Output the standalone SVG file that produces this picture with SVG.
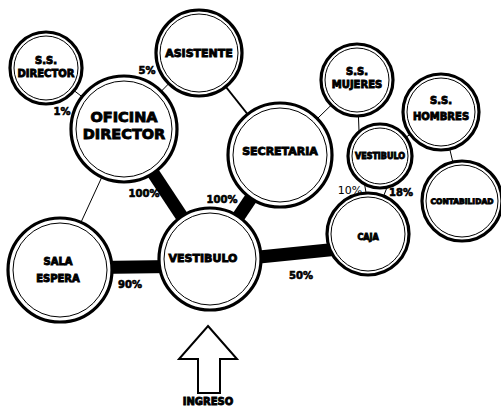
<svg xmlns="http://www.w3.org/2000/svg" width="501" height="411" viewBox="0 0 501 411">
  <style>
    .outer { fill: #fff; stroke: #000; stroke-width: 3.2; }
    .inner { fill: none; stroke: #000; stroke-width: 1; }
    .lbl { font-family: "DejaVu Sans", "Liberation Sans", sans-serif; font-weight: bold; fill: #000; stroke: #000; stroke-width: 0.9; text-anchor: middle; }
    .pct { font-family: "DejaVu Sans", "Liberation Sans", sans-serif; font-weight: bold; font-size: 10px; fill: #000; stroke: #000; stroke-width: 0.6; text-anchor: middle; }
    .pctn { font-family: "DejaVu Sans", "Liberation Sans", sans-serif; font-size: 11px; fill: #000; text-anchor: middle; }
    .thin { stroke: #000; stroke-width: 1; }
    .mid { stroke: #000; stroke-width: 2; }
    .thick { stroke: #000; stroke-width: 13; }
  </style>

  <!-- connectors -->
  <g id="connectors">
    <line class="thin" x1="46" y1="69" x2="124" y2="129"/>
    <line class="thin" x1="199" y1="53" x2="124" y2="129"/>
    <line class="mid" x1="199" y1="53" x2="280" y2="155"/>
    <line class="thick" x1="124" y1="129" x2="210" y2="259"/>
    <line class="thin" x1="124" y1="129" x2="59" y2="270"/>
    <line class="thick" x1="280" y1="155" x2="210" y2="259"/>
    <line class="thick" x1="59" y1="268" x2="210" y2="266"/>
    <line class="thick" x1="210" y1="262" x2="368" y2="246"/>
    <line class="thin" x1="357" y1="80" x2="280" y2="155"/>
    <line class="thin" x1="357" y1="80" x2="360" y2="156"/>
    <line class="thin" x1="441" y1="112" x2="380" y2="156"/>
    <line class="thin" x1="441" y1="112" x2="462" y2="201"/>
    <line class="thin" x1="363" y1="175" x2="369" y2="210"/>
    <line class="thin" x1="392" y1="175" x2="378" y2="210"/>
  </g>

  <!-- nodes -->
  <g id="ss-director">
    <circle class="outer" cx="46" cy="68" r="36"/>
    <circle class="inner" cx="46" cy="68" r="32"/>
    <text class="lbl" font-size="10" x="46" y="64">S.S.</text>
    <text class="lbl" font-size="10" x="46" y="77">DIRECTOR</text>
  </g>
  <g id="asistente">
    <circle class="outer" cx="199" cy="53" r="43"/>
    <circle class="inner" cx="199" cy="53" r="39"/>
    <text class="lbl" font-size="11" x="199" y="57">ASISTENTE</text>
  </g>
  <g id="oficina-director">
    <circle class="outer" cx="124" cy="129" r="53"/>
    <circle class="inner" cx="124" cy="129" r="48"/>
    <text class="lbl" font-size="14.5" x="124" y="122">OFICINA</text>
    <text class="lbl" font-size="14.5" x="124" y="139">DIRECTOR</text>
  </g>
  <g id="secretaria">
    <circle class="outer" cx="280" cy="155" r="52"/>
    <circle class="inner" cx="280" cy="155" r="47"/>
    <text class="lbl" font-size="11" x="280" y="155">SECRETARIA</text>
  </g>
  <g id="ss-mujeres">
    <circle class="outer" cx="357" cy="80" r="36"/>
    <circle class="inner" cx="357" cy="80" r="32"/>
    <text class="lbl" font-size="10" x="357" y="75">S.S.</text>
    <text class="lbl" font-size="10" x="357" y="88">MUJERES</text>
  </g>
  <g id="ss-hombres">
    <circle class="outer" cx="441" cy="112" r="38"/>
    <circle class="inner" cx="441" cy="112" r="34"/>
    <text class="lbl" font-size="10" x="441" y="104">S.S.</text>
    <text class="lbl" font-size="10" x="441" y="120">HOMBRES</text>
  </g>
  <g id="vestibulo-small">
    <circle class="outer" cx="380" cy="156" r="32"/>
    <circle class="inner" cx="380" cy="156" r="28"/>
    <text class="lbl" font-size="8" x="380" y="159">VESTIBULO</text>
  </g>
  <g id="contabilidad">
    <circle class="outer" cx="462" cy="201" r="40"/>
    <circle class="inner" cx="462" cy="201" r="36"/>
    <text class="lbl" font-size="7.5" x="462" y="204">CONTABILIDAD</text>
  </g>
  <g id="caja">
    <circle class="outer" cx="368" cy="234" r="41"/>
    <circle class="inner" cx="368" cy="234" r="37"/>
    <text class="lbl" font-size="8" x="368" y="240">CAJA</text>
  </g>
  <g id="vestibulo">
    <circle class="outer" cx="210" cy="259" r="51"/>
    <circle class="inner" cx="210" cy="259" r="46"/>
    <text class="lbl" font-size="11" x="203" y="262">VESTIBULO</text>
  </g>
  <g id="sala-espera">
    <circle class="outer" cx="60" cy="270" r="52"/>
    <circle class="inner" cx="60" cy="270" r="47"/>
    <text class="lbl" font-size="10" x="58" y="265">SALA</text>
    <text class="lbl" font-size="10" x="58" y="282">ESPERA</text>
  </g>

  <!-- percentages -->
  <g id="percentages">
    <text class="pct" x="147" y="74">5%</text>
    <text class="pct" x="62" y="115">1%</text>
    <text class="pct" x="144" y="197">100%</text>
    <text class="pct" x="222" y="203">100%</text>
    <text class="pct" x="130" y="288">90%</text>
    <text class="pct" x="301" y="279">50%</text>
    <text class="pctn" x="350" y="194">10%</text>
    <text class="pct" x="401" y="196">18%</text>
  </g>

  <!-- entrance arrow -->
  <g id="ingreso">
    <polygon points="208,326 237,359 220,359 220,393 198,393 198,359 179,359" fill="#fff" stroke="#000" stroke-width="2" stroke-linejoin="miter"/>
    <text class="lbl" font-size="10" x="208" y="405">INGRESO</text>
  </g>
</svg>
